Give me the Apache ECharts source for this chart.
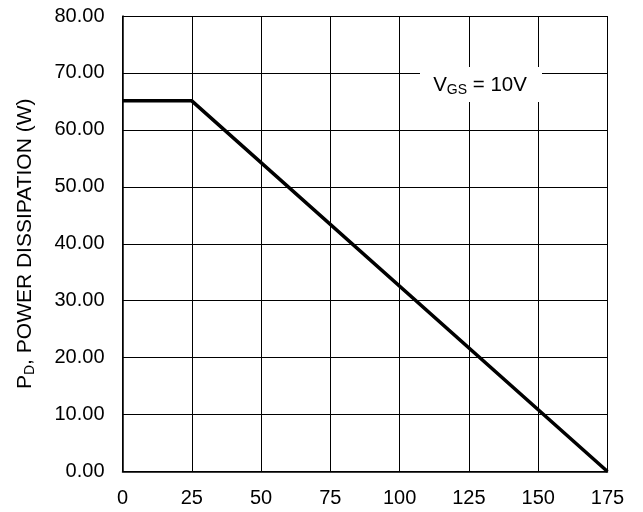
<!DOCTYPE html>
<html><head><meta charset="utf-8">
<script src="https://cdn.jsdelivr.net/npm/echarts@6/dist/echarts.min.js"></script>
<style>html,body{margin:0;padding:0;background:#fff}#c{width:643px;height:512px}</style>
</head><body><div id="c"></div>
<script>
const xValues = [0, 25, 175];
const powerW = [65.1, 65.1, 0];
const yTicks = [0, 10, 20, 30, 40, 50, 60, 70, 80];
const xTicks = [0, 25, 50, 75, 100, 125, 150, 175];

const chart = echarts.init(document.getElementById('c'));
const font = 'Liberation Sans, Arial, sans-serif';
chart.setOption({
  animation: false,
  grid: {left: 122.5, right: 35.5, top: 16, bottom: 40.5},
  xAxis: {
    type: 'value', min: 0, max: 175, interval: 25,
    axisLine: {lineStyle: {color: '#000', width: 1.5}},
    axisTick: {show: false},
    axisLabel: {color: '#000', fontSize: 20, fontFamily: font, margin: 17},
    splitLine: {show: true, lineStyle: {color: '#000', width: 1}}
  },
  yAxis: {
    type: 'value', min: 0, max: 80, interval: 10,
    axisLine: {show: true, lineStyle: {color: '#000', width: 1.5}},
    axisTick: {show: false},
    axisLabel: {color: '#000', fontSize: 20, fontFamily: font, margin: 18,
      formatter: v => v.toFixed(2)},
    splitLine: {show: true, lineStyle: {color: '#000', width: 1}},
    name: '{a|P}{s|D}{a|, POWER DISSIPATION (W)}',
    nameLocation: 'middle', nameGap: 85, nameRotate: 90,
    nameTextStyle: {rich: {
      a: {fontSize: 21, fontFamily: font, color: '#000'},
      s: {fontSize: 14, fontFamily: font, color: '#000', padding: [10,0,0,0]}
    }}
  },
  series: [{
    type: 'line', data: xValues.map((x,i)=>[x, powerW[i]]),
    symbol: 'none', lineStyle: {color: '#000', width: 3.5}
  }],
  graphic: [{
    type: 'rect', shape: {x: 420, y: 67, width: 122, height: 35},
    style: {fill: '#fff'}, z: 100
  }, {
    type: 'text', x: 480, y: 85, z: 101,
    style: {
      text: '{a|V}{s|GS}{a| = 10V}', align: 'center', verticalAlign: 'middle',
      rich: {
        a: {fontSize: 20.5, fontFamily: font, fill: '#000'},
        s: {fontSize: 14, fontFamily: font, fill: '#000', padding: [10,0,0,0]}
      }
    }
  }]
});
</script></body></html>
